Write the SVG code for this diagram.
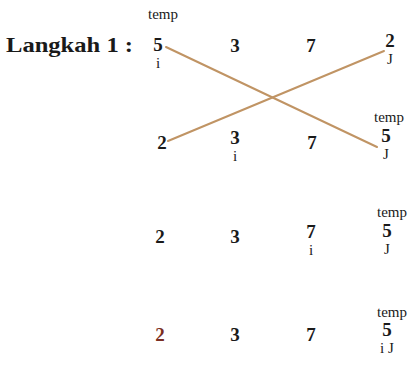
<svg xmlns="http://www.w3.org/2000/svg" width="419" height="371" viewBox="0 0 419 371">
<style>
.d{font-family:"Liberation Serif",serif;font-weight:bold;font-size:19px;fill:#1a1a1a;text-anchor:middle}
.s{font-family:"Liberation Serif",serif;font-size:15px;fill:#1a1a1a;text-anchor:middle}
.t{font-family:"Liberation Serif",serif;font-weight:bold;font-size:22px;fill:#1a1a1a}
.c{stroke:#c09464;stroke-width:2;fill:none;stroke-linecap:round}
</style>
<rect width="419" height="371" fill="#fff"/>
<text class="t" x="6" y="52" textLength="127" lengthAdjust="spacingAndGlyphs">Langkah 1 :</text>
<g id="connectors">
<line class="c" x1="166" y1="47" x2="377" y2="147"/>
<line class="c" x1="168" y1="141" x2="384" y2="51"/>
</g>
<g id="row1">
<text class="s" x="163" y="19">temp</text>
<text class="d" x="158" y="51">5</text>
<text class="s" x="158" y="68">i</text>
<text class="d" x="235" y="52">3</text>
<text class="d" x="311" y="52">7</text>
<text class="d" x="390" y="47">2</text>
<text class="s" x="390" y="64">J</text>
</g>
<g id="row2">
<text class="s" x="389" y="122">temp</text>
<text class="d" x="386" y="142">5</text>
<text class="s" x="386" y="159">J</text>
<text class="d" x="162" y="149">2</text>
<text class="d" x="235" y="144">3</text>
<text class="s" x="235" y="161">i</text>
<text class="d" x="312" y="149">7</text>
</g>
<g id="row3">
<text class="s" x="392" y="217">temp</text>
<text class="d" x="387" y="237">5</text>
<text class="s" x="387" y="254">J</text>
<text class="d" x="160" y="243">2</text>
<text class="d" x="235" y="243">3</text>
<text class="d" x="311" y="238">7</text>
<text class="s" x="311" y="255">i</text>
</g>
<g id="row4">
<text class="s" x="392" y="317">temp</text>
<text class="d" x="387" y="336">5</text>
<text class="s" x="387" y="353">i J</text>
<text class="d" x="160" y="341" style="fill:#7a2e22">2</text>
<text class="d" x="235" y="341">3</text>
<text class="d" x="311" y="341">7</text>
</g>
</svg>
